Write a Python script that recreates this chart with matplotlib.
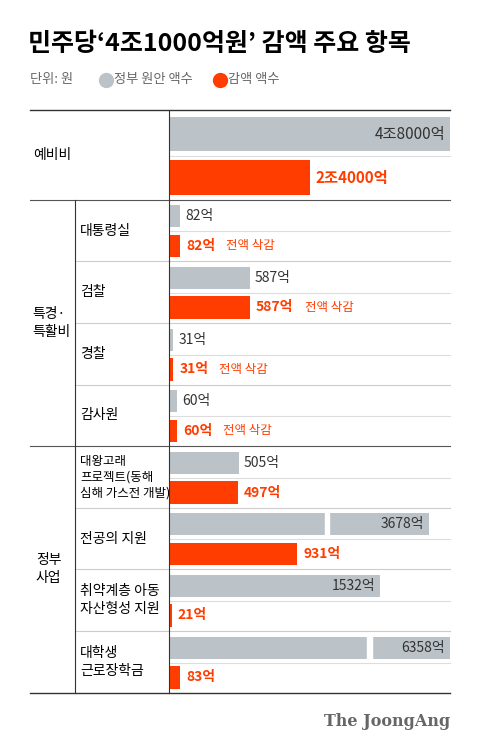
import matplotlib.pyplot as plt
from matplotlib.patches import Rectangle

plt.rcParams['font.family'] = ['Noto Sans CJK KR', 'DejaVu Sans']

GREY = '#bcc3c8'
RED = '#ff3d00'

# data (억원)
items = ['예비비', '대통령실', '검찰', '경찰', '감사원',
         '대왕고래\n프로젝트(동해\n심해 가스전 개발)', '전공의 지원',
         '취약계층 아동\n자산형성 지원', '대학생\n근로장학금']
gov = [48000, 82, 587, 31, 60, 505, 3678, 1532, 6358]
cut = [24000, 82, 587, 31, 60, 497, 931, 21, 83]
gov_labels = ['4조8000억', '82억', '587억', '31억', '60억', '505억', '3678억', '1532억', '6358억']
cut_labels = ['2조4000억', '82억', '587억', '31억', '60억', '497억', '931억', '21억', '83억']
full_cut = [False, True, True, True, True, False, False, False, False]

# layout in pixels
X0, X1 = 169, 450
row_top = [110, 200, 261, 323, 385, 446, 508, 569, 631]
row_bot = [200, 261, 323, 385, 446, 508, 569, 631, 693]
breaks = {6: (325, 329), 8: (367, 372)}  # broken bars (drawn shortened)

def px(i, v):
    if i == 0:
        return v * 281 / 48000
    return min(v * 0.138, X1 - X0)

fig = plt.figure(figsize=(4.8, 7.49), dpi=100)
ax = fig.add_axes([0, 0, 1, 1])
ax.set_xlim(0, 480)
ax.set_ylim(749, 0)
ax.axis('off')

ax.text(28, 44, '민주당‘4조1000억원’ 감액 주요 항목', fontsize=18, fontweight='bold', va='center')
ax.text(30, 80, '단위: 원', fontsize=9.5, color='#666666', va='center')
ax.scatter([106], [80], s=100, color=GREY)
ax.text(114, 80, '정부 원안 액수', fontsize=9.5, color='#666666', va='center')
ax.scatter([220], [80], s=100, color=RED)
ax.text(228, 80, '감액 액수', fontsize=9.5, color='#666666', va='center')

for i in range(len(items)):
    t, b = row_top[i], row_bot[i]
    h = b - t
    yg, yr = t + h * 0.27, t + h * 0.75
    bh = h * 0.36 if i else h * 0.38
    wg = px(i, gov[i])
    if i in (6, 8):
        wg = X1 - X0 - (21 if i == 6 else 0)
    ax.barh(yg, wg, left=X0, height=bh, color=GREY)
    if i in breaks:
        a, c = breaks[i]
        ax.add_patch(Rectangle((a, yg - bh / 2 - 0.5), c - a, bh + 1, color='white', zorder=3))
    wr = px(i, cut[i])
    ax.barh(yr, wr, left=X0, height=bh, color=RED)
    fs = 11 if i == 0 else 10
    if wg > 150:
        ax.text(X0 + wg - 5, yg, gov_labels[i], ha='right', va='center', fontsize=fs, color='#333333', zorder=4)
    else:
        ax.text(X0 + wg + 5, yg, gov_labels[i], ha='left', va='center', fontsize=fs, color='#333333')
    ax.text(X0 + wr + 6, yr, cut_labels[i], ha='left', va='center', fontsize=fs, color=RED, fontweight='bold')
    if full_cut[i]:
        ax.text(X0 + wr + 17 + 9.5 * len(cut_labels[i]), yr, '전액 삭감', ha='left', va='center',
                fontsize=9, color=RED)
    ax.plot([X0, X1], [t + h * 0.51] * 2, color='#dddddd', lw=0.8)
    if i:
        ax.text(80, (t + b) / 2, items[i], ha='left', va='center', fontsize=9 if i == 5 else 10,
                linespacing=1.3)
    if i not in (0, 1, 5):
        ax.plot([75, X1], [t, t], color='#cccccc', lw=0.8)

ax.text(33, 155, '예비비', ha='left', va='center', fontsize=10)
ax.text(32, 323, '특경·\n특활비', ha='left', va='center', fontsize=10, linespacing=1.3)
ax.text(36, 569, '정부\n사업', ha='left', va='center', fontsize=10, linespacing=1.3)

for y in (110, 693):
    ax.plot([30, X1], [y, y], color='#333333', lw=1)
for y in (200, 446):
    ax.plot([30, X1], [y, y], color='#555555', lw=0.8)
ax.plot([X0, X0], [110, 693], color='#333333', lw=0.8)
ax.plot([75, 75], [200, 693], color='#333333', lw=0.8)

ax.text(450, 722, 'The JoongAng', ha='right', va='center', fontsize=11.5, fontweight='bold',
        color='#666666', family='DejaVu Serif')

fig.savefig('out.png', dpi=100)
